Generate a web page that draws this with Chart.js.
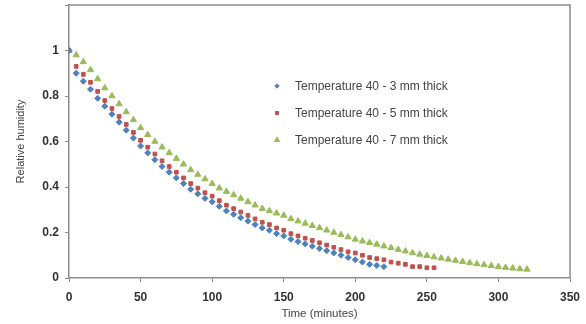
<!DOCTYPE html>
<html>
<head>
<meta charset="utf-8">
<script src="https://cdn.jsdelivr.net/npm/chart.js@4.4.0/dist/chart.umd.min.js"></script>
<style>
  html, body { margin: 0; padding: 0; background: #fff; }
  #wrap { width: 586px; height: 324px; }
</style>
</head>
<body>
<div id="wrap"><canvas id="chart"></canvas></div>
<script>
// time step is 5 minutes for every series
const times3 = [0,5,10,15,20,25,30,35,40,45,50,55,60,65,70,75,80,85,90,95,100,105,110,115,120,125,130,135,140,145,150,155,160,165,170,175,180,185,190,195,200,205,210,215,220];
const rh3 = [1.0,0.90,0.865,0.83,0.79,0.755,0.72,0.685,0.65,0.615,0.58,0.55,0.52,0.49,0.465,0.44,0.415,0.39,0.37,0.35,0.335,0.315,0.295,0.28,0.265,0.25,0.235,0.22,0.21,0.195,0.185,0.17,0.16,0.15,0.14,0.13,0.12,0.11,0.10,0.09,0.08,0.07,0.06,0.055,0.05];

const times5 = [0,5,10,15,20,25,30,35,40,45,50,55,60,65,70,75,80,85,90,95,100,105,110,115,120,125,130,135,140,145,150,155,160,165,170,175,180,185,190,195,200,205,210,215,220,225,230,235,240,245,250,255];
const rh5 = [1.0,0.93,0.895,0.86,0.82,0.78,0.745,0.71,0.675,0.64,0.605,0.575,0.545,0.515,0.49,0.465,0.44,0.415,0.395,0.375,0.36,0.34,0.32,0.305,0.29,0.275,0.26,0.245,0.235,0.22,0.21,0.195,0.185,0.175,0.165,0.155,0.145,0.135,0.125,0.115,0.11,0.10,0.09,0.085,0.08,0.07,0.065,0.06,0.05,0.05,0.045,0.045];

const times7 = [0,5,10,15,20,25,30,35,40,45,50,55,60,65,70,75,80,85,90,95,100,105,110,115,120,125,130,135,140,145,150,155,160,165,170,175,180,185,190,195,200,205,210,215,220,225,230,235,240,245,250,255,260,265,270,275,280,285,290,295,300,305,310,315,320];
const rh7 = [1.0,0.98,0.95,0.915,0.875,0.835,0.80,0.765,0.73,0.695,0.66,0.63,0.60,0.575,0.55,0.525,0.50,0.475,0.455,0.435,0.415,0.395,0.38,0.365,0.35,0.335,0.32,0.305,0.295,0.285,0.275,0.26,0.25,0.24,0.23,0.22,0.21,0.20,0.19,0.18,0.17,0.162,0.155,0.148,0.14,0.133,0.125,0.118,0.11,0.104,0.098,0.092,0.087,0.082,0.077,0.072,0.067,0.062,0.058,0.054,0.05,0.046,0.043,0.04,0.038];

const seriesNames = ['Temperature 40 - 3 mm thick', 'Temperature 40 - 5 mm thick', 'Temperature 40 - 7 mm thick'];
const xTicks = [0, 50, 100, 150, 200, 250, 300, 350];

function toPoints(xs, ys) {
    return xs.map((x, i) => ({ x: x, y: ys[i] }));
}

const frameBox = {
    id: 'frameBox',
    afterDraw(chart) {
        const a = chart.chartArea;
        const ctx = chart.ctx;
        ctx.save();
        ctx.strokeStyle = '#8c8c8c';
        ctx.lineWidth = 1.5;
        ctx.beginPath();
        ctx.moveTo(a.left, a.top);
        ctx.lineTo(a.right, a.top);
        ctx.lineTo(a.right, a.bottom);
        ctx.stroke();
        ctx.restore();
    }
};

// legend drawn inside the plot area like the original
const innerLegend = {
    id: 'innerLegend',
    afterDraw(chart) {
        const ctx = chart.ctx;
        const rows = [86, 113, 140];
        ctx.save();
        chart.data.datasets.forEach((ds, i) => {
            ctx.fillStyle = ds.backgroundColor;
            ctx.strokeStyle = ds.borderColor;
            ctx.lineWidth = 1;
            Chart.helpers.drawPoint(ctx, {
                pointStyle: ds.pointStyle,
                radius: ds.pointStyle === 'triangle' ? 3 : 2.2,
                rotation: 0,
                borderWidth: 1
            }, 277, rows[i]);
            ctx.fillStyle = '#444';
            ctx.font = '12px "Liberation Sans", Arial, sans-serif';
            ctx.textBaseline = 'middle';
            ctx.fillText(ds.label, 295, rows[i] + 1);
        });
        ctx.restore();
    }
};

const ctx = document.getElementById('chart').getContext('2d');
new Chart(ctx, {
    type: 'scatter',
    data: {
        datasets: [{
            label: seriesNames[0],
            data: toPoints(times3, rh3),
            pointStyle: 'rectRot',
            pointRadius: 3,
            backgroundColor: '#4f81bd',
            borderColor: '#4f81bd',
            borderWidth: 1
        }, {
            label: seriesNames[1],
            data: toPoints(times5, rh5),
            pointStyle: 'rect',
            pointRadius: 2.6,
            backgroundColor: '#c0504d',
            borderColor: '#c0504d',
            borderWidth: 1
        }, {
            label: seriesNames[2],
            data: toPoints(times7, rh7),
            pointStyle: 'triangle',
            pointRadius: 3.6,
            backgroundColor: '#9bbb59',
            borderColor: '#9bbb59',
            borderWidth: 1
        }]
    },
    options: {
        responsive: true,
        maintainAspectRatio: false,
        animation: false,
        layout: { padding: { left: 0, right: 16, top: 5, bottom: 0 } },
        plugins: {
            legend: { display: false },
            tooltip: { enabled: false }
        },
        scales: {
            x: {
                type: 'linear',
                min: 0,
                max: 350,
                afterBuildTicks: (axis) => { axis.ticks = xTicks.map(v => ({ value: v })); },
                afterFit: (axis) => { axis.height = 46; axis.paddingRight = 0; axis.paddingLeft = 0; },
                grid: { drawOnChartArea: false, drawTicks: true, tickLength: 4, color: '#8c8c8c' },
                border: { display: true, color: '#8c8c8c', width: 1.5 },
                ticks: {
                    color: '#333',
                    font: { family: '"Liberation Sans", Arial, sans-serif', size: 12, weight: 'bold' },
                    padding: 8,
                    maxRotation: 0
                },
                title: {
                    display: true,
                    text: 'Time (minutes)',
                    color: '#444',
                    font: { family: '"Liberation Sans", Arial, sans-serif', size: 11.5 },
                    padding: { top: 0, bottom: 3 }
                }
            },
            y: {
                min: 0,
                max: 1.2,
                afterFit: (axis) => { axis.width = 69; axis.paddingTop = 0; axis.paddingBottom = 0; },
                grid: { drawOnChartArea: false, drawTicks: true, tickLength: 4, color: '#8c8c8c' },
                border: { display: true, color: '#8c8c8c', width: 1.5 },
                ticks: {
                    stepSize: 0.2,
                    color: '#333',
                    font: { family: '"Liberation Sans", Arial, sans-serif', size: 12, weight: 'bold' },
                    padding: 6,
                    callback: (v) => v > 1.05 ? '' : String(Math.round(v * 10) / 10)
                },
                title: {
                    display: true,
                    text: 'Relative humidity',
                    color: '#444',
                    font: { family: '"Liberation Sans", Arial, sans-serif', size: 11 },
                    padding: { top: 14, bottom: 4 }
                }
            }
        }
    },
    plugins: [frameBox, innerLegend]
});
</script>
</body>
</html>
